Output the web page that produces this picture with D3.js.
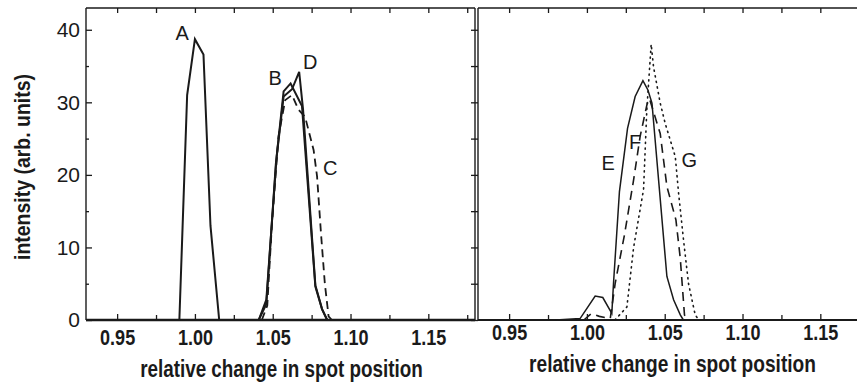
<!DOCTYPE html>
<html>
<head>
<meta charset="utf-8">
<script src="https://cdn.jsdelivr.net/npm/d3@7"></script>
<style>
  body { margin: 0; background: #fff; }
  svg { display: block; }
  .tick text { font-family: "Liberation Sans", Arial, sans-serif; }
</style>
</head>
<body>
<div id="chart"></div>
<script>
// DATA
const xDomain = [0.93, 1.18]
const yDomain = [0, 43]
const xMajorTicks = [0.95, 1.00, 1.05, 1.10, 1.15]
const xMinorTicks = [0.975, 1.025, 1.075, 1.125, 1.175]
const yMajorTicks = [0, 10, 20, 30, 40]
const yMinorTicks = [5, 15, 25, 35]
const xTitle = 'relative change in spot position'
const yTitle = 'intensity (arb. units)'

// left panel
const curveA = [[0.93, 0], [0.99, 0], [0.995, 31], [1.0, 38.7], [1.0055, 36.6], [1.01, 13], [1.0156, 0], [1.04, 0]]
const curveB = [[1.02, 0], [1.041, 0], [1.0459, 2.8], [1.0525, 22.5], [1.057, 31.5], [1.0615, 32.6], [1.0688, 29.5], [1.0774, 4.6], [1.0817, 1.5], [1.085, 0], [1.165, 0]]
const curveC = [[1.043, 0], [1.0465, 2], [1.0494, 12.9], [1.0537, 25.3], [1.058, 30.3], [1.0624, 31], [1.0665, 29], [1.0708, 28], [1.0763, 23.4], [1.0785, 19.8], [1.081, 12], [1.0835, 5], [1.0859, 0.5], [1.088, 0]]
const curveD = [[1.041, 0], [1.0459, 2.2], [1.052, 21.5], [1.057, 30.8], [1.0624, 31.8], [1.067, 34.2], [1.0695, 29], [1.0774, 4.8], [1.0817, 1.5], [1.085, 0]]

// right panel
const curveE = [[0.98, 0], [0.9956, 0.2], [1.0053, 3.3], [1.0102, 3.1], [1.016, 0.9], [1.0171, 5.1], [1.0209, 17.7], [1.0261, 26.4], [1.031, 30.8], [1.036, 33.0], [1.0392, 31.7], [1.0418, 29.9], [1.0514, 6.0], [1.0557, 2.8], [1.06, 0.7], [1.062, 0]]
const curveF = [[0.998, 0], [1.003, 0.9], [1.008, 0.5], [1.015, 0.2], [1.0182, 5.1], [1.0241, 11.7], [1.03, 19.3], [1.0342, 25.3], [1.0386, 29.7], [1.0402, 30.5], [1.0471, 25.7], [1.0514, 18.4], [1.0572, 13.8], [1.06, 8.5], [1.0627, 0.7], [1.064, 0]]
const curveG = [[1.018, 0], [1.0257, 1.8], [1.03, 10], [1.0364, 18], [1.0385, 29], [1.0413, 38], [1.0428, 34.9], [1.0471, 29.9], [1.0503, 27.1], [1.0568, 22.5], [1.0589, 17.5], [1.0621, 11], [1.0653, 5], [1.0696, 0.7], [1.072, 0]]

// curve labels (data coords)
const leftLabels = [['A', 0.9918, 39.5], ['B', 1.0516, 33.3], ['D', 1.0741, 35.5], ['C', 1.087, 20.9]]
const rightLabels = [['E', 1.0137, 21.6], ['F', 1.031, 24.5], ['G', 1.0658, 22.0]]

// SIZES
const W = 857, H = 385
const panelW = 389, panelH = 312
const topY = 8
const leftX = 86, rightX = 478
const ink = '#1a1a1a'

const svg = d3.select('#chart').append('svg')
  .attr('width', W)
  .attr('height', H)

const x = d3.scaleLinear().domain(xDomain).range([0, panelW])
const y = d3.scaleLinear().domain(yDomain).range([panelH, 0])
const line = d3.line().x(d => x(d[0])).y(d => y(d[1]))

function styleAxis(g) {
  g.select('.domain').remove()
  g.selectAll('.tick line').attr('stroke', ink).attr('stroke-width', 1.3)
}

// condensed bold title: squeeze to a target width with a horizontal scale
function title(text, cx, cy, width, size, rotate) {
  const t = svg.append('text')
    .attr('text-anchor', 'middle')
    .attr('fill', ink)
    .style('font-family', '"Liberation Sans", Arial, sans-serif')
    .style('font-size', `${size}px`)
    .style('font-weight', 'bold')
    .text(text)
  const sx = width / t.node().getComputedTextLength()
  t.attr('transform', `translate(${cx},${cy})${rotate ? ' rotate(-90)' : ''} scale(${sx},1)`)
}

function drawPanel(ox, opts) {
  const g = svg.append('g').attr('transform', `translate(${ox},${topY})`)

  // frame
  g.append('line').attr('x1', 0).attr('x2', 0).attr('y1', 0).attr('y2', panelH)
    .attr('stroke', ink).attr('stroke-width', 1.4)
  g.append('line').attr('x1', 0).attr('x2', panelW).attr('y1', 0).attr('y2', 0)
    .attr('stroke', ink).attr('stroke-width', 1.4)
  if (opts.rightBorder) {
    g.append('line').attr('x1', panelW).attr('x2', panelW).attr('y1', 0).attr('y2', panelH)
      .attr('stroke', ink).attr('stroke-width', 1.4)
  }
  g.append('line').attr('x1', 0).attr('x2', panelW).attr('y1', panelH).attr('y2', panelH)
    .attr('stroke', ink).attr('stroke-width', opts.bottomWidth)

  // top ticks (inward)
  g.append('g').call(d3.axisTop(x).tickValues(xMajorTicks.concat(xMinorTicks)).tickSize(-5).tickFormat(''))
    .call(styleAxis)

  // bottom ticks (inward) + labels
  const bx = svg.append('g').attr('transform', `translate(${ox},${topY + panelH})`)
  bx.call(d3.axisBottom(x).tickValues(xMinorTicks).tickSize(-5).tickFormat('')).call(styleAxis)
  const bm = svg.append('g').attr('transform', `translate(${ox},${topY + panelH})`)
  bm.call(d3.axisBottom(x).tickValues(xMajorTicks).tickSize(-6).tickPadding(0).tickFormat(d3.format('.2f')))
    .call(styleAxis)
  bm.selectAll('.tick text')
    .attr('y', null).attr('dy', null)
    .attr('fill', ink)
    .style('font-size', '22px')
    .style('font-weight', 'bold')
    .attr('transform', `translate(0,${opts.tickBase}) scale(0.82,1)`)

  // y ticks
  if (opts.yLabels) {
    g.append('g').call(d3.axisLeft(y).tickValues(yMinorTicks).tickSize(-3).tickFormat('')).call(styleAxis)
    const ya = g.append('g').call(d3.axisLeft(y).tickValues(yMajorTicks).tickSize(-6).tickPadding(6).tickFormat(d3.format('d')))
      .call(styleAxis)
    ya.selectAll('.tick text')
      .attr('fill', ink)
      .style('font-size', '21px')
      .attr('x', -6)
  } else {
    g.append('g').call(d3.axisLeft(y).tickValues(yMajorTicks.concat(yMinorTicks)).tickSize(7).tickFormat(''))
      .call(styleAxis)
  }

  // curves
  opts.curves.forEach(c => {
    g.append('path')
      .datum(c.data)
      .attr('d', line)
      .attr('fill', 'none')
      .attr('stroke', ink)
      .attr('stroke-width', c.width)
      .attr('stroke-dasharray', c.dash || null)
      .attr('stroke-linecap', c.cap || 'butt')
      .attr('stroke-linejoin', 'miter')
  })

  // labels
  g.selectAll('text.curve-label')
    .data(opts.labels)
    .join('text')
    .attr('class', 'curve-label')
    .attr('x', d => x(d[1]))
    .attr('y', d => y(d[2]))
    .attr('text-anchor', 'middle')
    .attr('dominant-baseline', 'central')
    .attr('fill', ink)
    .style('font-family', '"Liberation Sans", Arial, sans-serif')
    .style('font-size', '20px')
    .text(d => d[0])

  // x title
  title(xTitle, ox + panelW / 2 + opts.titleDx, opts.titleBase, opts.titleLen, 23, false)
}

drawPanel(leftX, {
  rightBorder: true,
  bottomWidth: 2.6,
  yLabels: true,
  tickBase: 25,
  titleBase: 377,
  titleDx: 1,
  titleLen: 283,
  labels: leftLabels,
  curves: [
    { data: curveA, width: 2 },
    { data: curveC, width: 1.8, dash: '8,5' },
    { data: curveB, width: 2 },
    { data: curveD, width: 2 },
  ],
})

drawPanel(rightX, {
  rightBorder: false,
  bottomWidth: 1.8,
  yLabels: false,
  tickBase: 20,
  titleBase: 372,
  titleDx: 0,
  titleLen: 287,
  labels: rightLabels,
  curves: [
    { data: curveE, width: 1.5 },
    { data: curveF, width: 1.6, dash: '9,6' },
    { data: curveG, width: 1.6, dash: '1.2,4.5', cap: 'round' },
  ],
})

// y title
title(yTitle, 30, 167, 186, 22, true)
</script>
</body>
</html>
